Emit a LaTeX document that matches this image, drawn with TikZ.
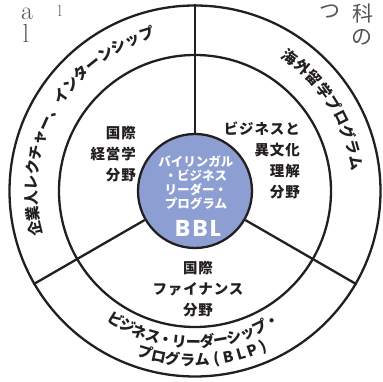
\documentclass[tikz,border=0pt]{standalone}
\usepackage{fontspec}
\newfontfamily\jpfont{Noto Sans CJK JP}
\newfontfamily\jpwide{Noto Sans CJK JP}[LetterSpace=6]
\newfontfamily\bblfont{Poppins}[LetterSpace=10]
\definecolor{hubblue}{RGB}{141,158,210}
\definecolor{inkline}{RGB}{35,31,32}
\definecolor{pagegray}{RGB}{85,85,85}
\tikzset{every picture/.style={line width=2.3pt}}
\tikzset{
  ring/.style={circle, draw=inkline, inner sep=0pt},
  hub/.style={circle, draw=inkline, fill=hubblue, inner sep=0pt},
  spoke/.style={draw=inkline},
  arcchar/.style={inner sep=0pt, text height=0.88em, text depth=0.12em, text=inkline,
    font=\jpfont\bfseries\fontsize{15}{15}\selectfont},
  fieldtext/.style={inner sep=0pt, text=inkline,
    font=\jpwide\bfseries\fontsize{14.5}{21}\selectfont},
  hubtext/.style={inner sep=0pt, align=center, text=white,
    font=\jpfont\bfseries\fontsize{12.5}{14}\selectfont},
  pagetext/.style={inner sep=0pt, text=pagegray}
}

\begin{document}
\begin{tikzpicture}[x=1pt,y=1pt]
\useasboundingbox (-195,-191) rectangle (188,191);

% rings
\node[ring, minimum size=371pt] (outer) at (0,0) {};
\node[ring, minimum size=272pt] (middle) at (0,0) {};
\node[hub, minimum size=114pt] (hub) at (0,0) {};

% spokes
\draw[spoke] (hub.90) -- (outer.90);
\draw[spoke] (hub.210) -- (outer.210);
\draw[spoke] (hub.330) -- (outer.330);

% hub text
\node[hubtext] (hubname) at (1,8.5) {バイリンガル\\・ビジネス\\リーダー・\\プログラム};
\node[inner sep=0pt, text=white, font=\bblfont\bfseries\fontsize{23}{23}\selectfont] (bbl) at (3,-37) {BBL};

% fields
\node[fieldtext, align=right, anchor=east] (fieldmgmt) at (-58,37) {国際\\経営学\\分野};
\node[fieldtext, align=right, anchor=east] (fieldcult) at (106,31) {ビジネスと\\異文化\\理解\\分野};
\node[fieldtext, align=center] (fieldfin) at (3,-98) {国際\\ファイナンス\\分野};

% outer ring, upper left
\foreach \ch [count=\i from 0] in {企,業,人,レ,ク,チ,ャ,ー,、,イ,ン,タ,ー,ン,シ,ッ,プ}
  \node[arcchar, rotate={103.4-5.4*\i}] (lect\i) at ({193.4-5.4*\i}:162) {\ch};

% outer ring, upper right
\foreach \ch [count=\i from 0] in {海,外,留,学,プ,ロ,グ,ラ,ム}
  \node[arcchar, rotate={-35.5-5.58*\i}] (abroad\i) at ({54.5-5.58*\i}:162) {\ch};

% outer ring, bottom
\foreach \ch [count=\i from 0] in {ビ,ジ,ネ,ス,・,リ,ー,ダ,ー,シ,ッ,プ,・}
  \node[arcchar, rotate={-31.8+5.2*\i}] (blpa\i) at ({-121.8+5.2*\i}:153) {\ch};
\foreach \a/\ch [count=\i] in {-107.0/プ,-102.4/ロ,-97.5/グ,-92.5/ラ,-87.6/ム,-82.5/(,-78.6/B,-74.2/L,-70.2/P,-66.2/)}
  \node[arcchar, rotate={\a+90}] (blpb\i) at (\a:171) {\ch};

% page fragments
\node[pagetext, font=\fontsize{26}{26}\selectfont] (pa) at (-168,177) {a};
\node[pagetext, font=\fontsize{26}{26}\selectfont] (pl) at (-169,158) {l};
\node[pagetext, font=\fontsize{16}{16}\selectfont] (pl2) at (-135,180) {l};
\node[pagetext, font=\jpfont\fontsize{21}{21}\selectfont] (ptsu) at (135,179) {つ};
\node[pagetext, font=\jpfont\fontsize{21}{21}\selectfont] (pka) at (168,178) {科};
\node[pagetext, font=\jpfont\fontsize{21}{21}\selectfont] (pno) at (167,154) {の};
\end{tikzpicture}
\end{document}
